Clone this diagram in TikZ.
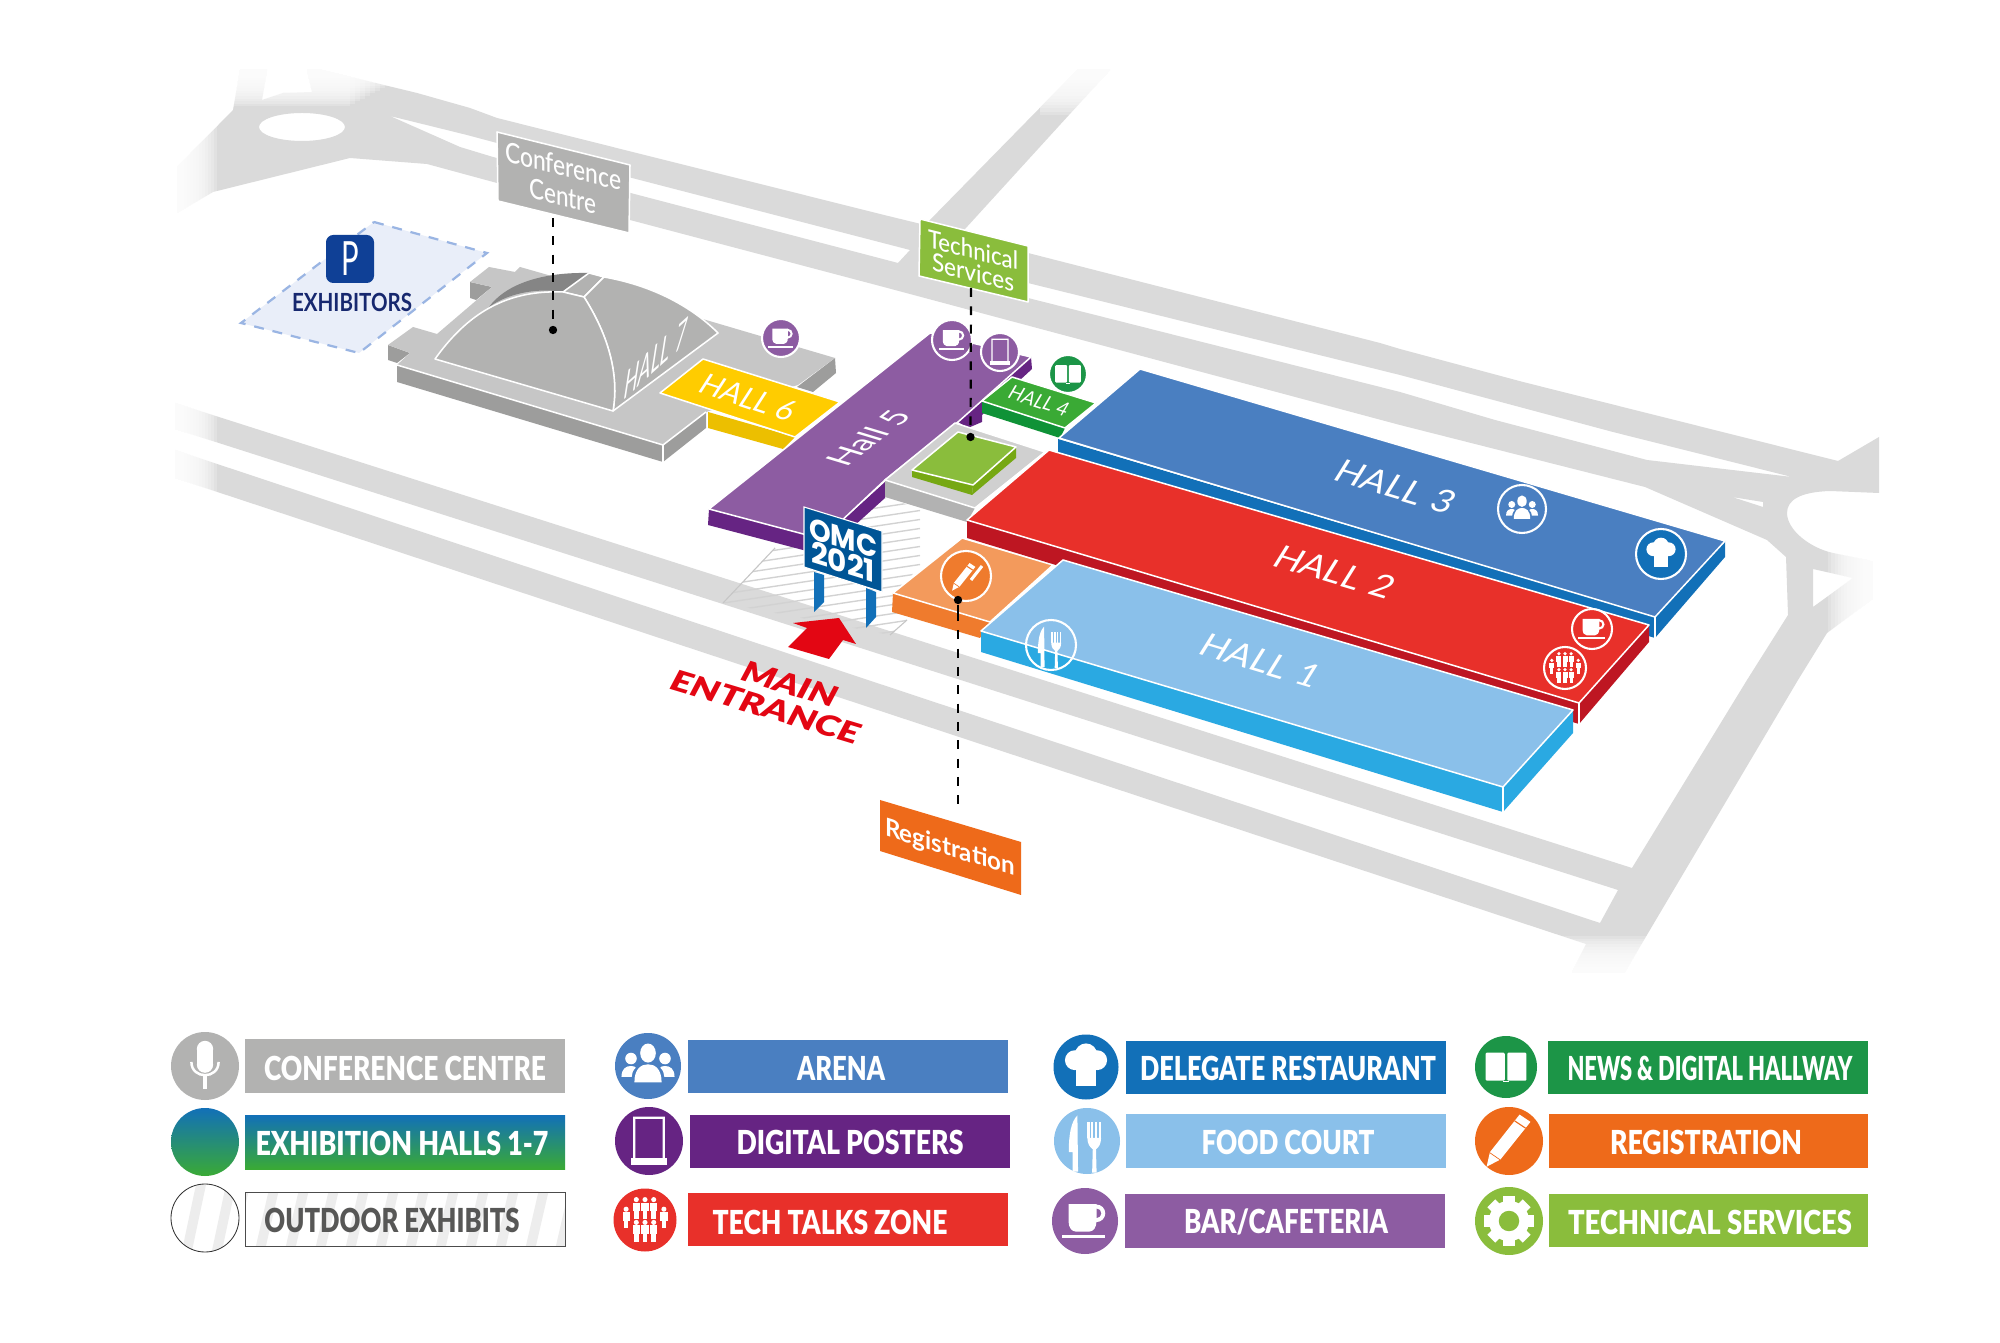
\documentclass[tikz,border=0pt]{standalone}
\usepackage{fontspec}
\usepackage{graphicx}
\setmainfont{Lato}
\newfontfamily\medf{Lato Medium}
\newfontfamily\blkf{Lato Black}
\newfontfamily\popp{Poppins}
\definecolor{road}{HTML}{DADADA}
\definecolor{cgray}{HTML}{B2B2B1}
\definecolor{cplat}{HTML}{C6C6C6}
\definecolor{cdark}{HTML}{9D9D9C}
\definecolor{cback}{HTML}{858585}
\definecolor{carena}{HTML}{4A7FC1}
\definecolor{cdeleg}{HTML}{1270B8}
\definecolor{cred}{HTML}{E8302A}
\definecolor{cdred}{HTML}{BE1622}
\definecolor{cfood}{HTML}{8AC0EA}
\definecolor{cfood2}{HTML}{2AA9E2}
\definecolor{cbar}{HTML}{8D5CA2}
\definecolor{cposter}{HTML}{662483}
\definecolor{cnews}{HTML}{1C9547}
\definecolor{chall4}{HTML}{3AAA35}
\definecolor{chall4d}{HTML}{0F9237}
\definecolor{creg}{HTML}{EE6A1A}
\definecolor{corl}{HTML}{F39A5C}
\definecolor{cord}{HTML}{EF7B2D}
\definecolor{ctech}{HTML}{8ABD3C}
\definecolor{ctechd}{HTML}{76A813}
\definecolor{cyel}{HTML}{FFCC00}
\definecolor{cyeld}{HTML}{ECBF00}
\definecolor{cplatb}{HTML}{D0D0D0}
\definecolor{cplatd}{HTML}{B2B2B2}
\definecolor{csign}{HTML}{005596}
\definecolor{carrow}{HTML}{E30613}
\definecolor{cpark}{HTML}{E9EEF9}
\definecolor{cparkd}{HTML}{9AB5E3}
\definecolor{cpblue}{HTML}{0F4096}
\definecolor{cnavy}{HTML}{17286F}
\definecolor{coutd}{HTML}{575756}
\definecolor{cstripe}{HTML}{EDEDED}
\definecolor{chatch}{HTML}{D2D2D2}
\definecolor{cgreen}{HTML}{3AAA35}
\newcommand\fw[2]{\resizebox{\dimexpr #1pt*36/100\relax}{\height}{#2}}
% icons: unit circle radius 10, +y downward
\newcommand\IcoCup[3]{\begin{scope}[shift={(#1,#2)},scale=#3]
\fill[white] (-5,-4.8)--(3,-4.8)--(3,0) .. controls (3,2) and (2,3) .. (1,3)--(-3,3) .. controls (-4,3) and (-5,2) .. (-5,0)--cycle;
\fill[white,even odd rule] (3,-2.2) circle[radius=2.5] (3,-2.2) circle[radius=1.4];
\fill[white] (-7,4) rectangle (5.5,4.9);
\end{scope}}
\newcommand\IcoPeople[3]{\begin{scope}[shift={(#1,#2)},scale=#3]
\fill[white] (0,-3.8) ellipse[x radius=2.3,y radius=2.8];
\fill[white] (-5,-2.2) circle[radius=1.7] (5,-2.2) circle[radius=1.7];
\fill[white] (-4,4.8) .. controls (-4,0.8) and (-2,-.5) .. (0,-.5) .. controls (2,-.5) and (4,.8) .. (4,4.8)--cycle;
\fill[white] (-7.8,3.2) .. controls (-7.8,.8) and (-6.5,0) .. (-5,0) .. controls (-4.2,0) and (-3.8,.2) .. (-3.6,.5) .. controls (-4.4,1.2) and (-4.8,2.2) .. (-4.8,3.2)--cycle;
\fill[white] (7.8,3.2) .. controls (7.8,.8) and (6.5,0) .. (5,0) .. controls (4.2,0) and (3.8,.2) .. (3.6,.5) .. controls (4.4,1.2) and (4.8,2.2) .. (4.8,3.2)--cycle;
\end{scope}}
\newcommand\IcoChef[3]{\begin{scope}[shift={(#1,#2)},scale=#3]
\fill[white] (-3.6,-2.2) circle[radius=3.2] (3.6,-2.2) circle[radius=3.2] (0,-4) circle[radius=3.6];
\fill[white] (-3.2,-2) rectangle (3.2,6);
\end{scope}}
\newcommand\IcoFork[3]{\begin{scope}[shift={(#1,#2)},scale=#3]
\fill[white] (-3,-8)--(-2.8,9.6)--(-4.5,9.6)--(-4.5,3.5)--(-5.7,3.5) .. controls (-5.7,-2) and (-5,-6) .. (-3,-8)--cycle;
\foreach \t in {.1,1.3,2.5,3.7}{\fill[white] (\t,-5.8) rectangle ++(.7,5);}
\fill[white] (.1,-1) .. controls (.1,1) and (1,2) .. (1.8,2.6)--(1.6,9.9)--(3,9.9)--(2.8,2.6) .. controls (3.6,2) and (4.4,1) .. (4.4,-1)--cycle;
\end{scope}}
\newcommand\IcoPen[4]{\begin{scope}[shift={(#1,#2)},scale=#3]
\fill[white] (-6.8,7.8)--(-5.8,3.4)--(3.2,-8)--(6.5,-5.8)--(-2.6,5.6)--cycle;
\draw[#4,line width=.4pt] (1.7,-6.1)--(5,-3.9);
\draw[#4,line width=.25pt] (-5.9,3.5)--(-2.7,5.7);
\end{scope}}
\newcommand\IcoBook[3]{\begin{scope}[shift={(#1,#2)},scale=#3]
\fill[white,rounded corners=.4pt] (-6.6,-4.6) rectangle (-.4,4.4);
\fill[white,rounded corners=.4pt] (.4,-4.6) rectangle (6.6,4.4);
\fill[white] (-.9,4.4) rectangle (.9,4.9);
\end{scope}}
\newcommand\IcoPoster[3]{\begin{scope}[shift={(#1,#2)},scale=#3]
\fill[white,even odd rule] (-4.8,-7.4) rectangle (4.8,5.2) (-4.1,-6.7) rectangle (4.1,5.2);
\fill[white] (-5.6,5.2) rectangle (5.6,7.2);
\end{scope}}
\newcommand\IcoTalk[3]{\begin{scope}[shift={(#1,#2)},scale=#3]
\foreach \hx/\hy in {-2.9/-4.6,0/-4.6,2.9/-4.6,-6.3/-1.4,6.3/-1.4,-2.9/3,0/3,2.9/3}{
\fill[white] (\hx,\hy-2.2) circle[radius=.85];
\fill[white] (\hx-1.2,\hy-1.2) rectangle (\hx+1.2,\hy+1.6);
\fill[white] (\hx-.75,\hy+1.6) rectangle (\hx+.75,\hy+4.2);}
\end{scope}}
\newcommand\IcoMic[3]{\begin{scope}[shift={(#1,#2)},scale=#3]
\fill[white] (0,-5) circle[radius=2.4] (0,-.4) circle[radius=2.4];
\fill[white] (-2.4,-5) rectangle (2.4,-.4);
\draw[white,line width=.9pt] (-4,-1.2) .. controls (-4,4) and (4,4) .. (4,-1.2);
\fill[white] (-.55,2.5) rectangle (.55,6.8);
\end{scope}}
\newcommand\IcoGear[4]{\begin{scope}[shift={(#1,#2)},scale=#3]
\foreach \a in {0,45,...,315}{\fill[white,rotate=\a] (-1.7,-7.6) rectangle (1.7,0);}
\fill[white] (0,0) circle[radius=6.1];
\fill[#4] (0,0) circle[radius=3.1];
\end{scope}}
\tikzset{
 face/.style={draw=white,line width=.55pt,line join=round},
 mapico/.style={draw=white,line width=.75pt},
 leader/.style={black,line width=.8pt,dash pattern=on 3.2pt off 3.4pt},
 dotnode/.style={circle,fill=black,inner sep=0pt,minimum size=3pt},
 legtxt/.style={text=white,font=\fontsize{11.9}{13}\selectfont\blkf,inner sep=0pt},
 hallbase/.style={text=white,inner sep=0pt},
 hallT/.style={hallbase,font=\fontsize{12.2}{14}\selectfont,cm={1,-.3,.53,.85,(0,0)}},
 signT/.style={text=white,inner sep=0pt,align=center},
 fadestep/.style={white,opacity=.2},
}
\begin{document}
\begin{tikzpicture}[x=.36pt,y=-.36pt]
\useasboundingbox (0,0) rectangle (2000,1343);
\fill[white] (0,0) rectangle (2000,1343);
% ---------- roads
\fill[road,even odd rule]
 (240,70)--(267,70)--(262,100)--(283,93)--(312,92)--(307,70)--(322,70)--(417,93)--(470,108)--(497,118)--(880,214)--(925,225)--(1077,70)--(1110,70)--(955,240)--(1028,253)--(1380,343)--(1400,349)--(1523,382)--(1838,461)--(1879,437)--(1879,493)--(1830,491) .. controls (1800,492) and (1787,500) .. (1787,513) .. controls (1787,530) and (1810,548) .. (1833,553)--(1867,560)--(1885,566)--(1885,590)--(1867,603)--(1827,633)--(1798,680)--(1625,972)--(1572,972)--(1586,944)--(175,478)--(175,450)--(1600,923)--(1618,890)--(175,429)--(175,403)--(1632,868)--(1747,680)--(1788,615)--(1786,557)--(1767,540)--(1645,487)--(1400,425)--(880,286)--(630,220)--(497,183)--(427,164)--(350,158)--(213,192)--(177,213)--(177,167)--(233,110)--cycle
 (390,116)--(467,135)--(497,143)--(910,250)--(898,263)--(493,157)--(460,147)--cycle
 (955,265)--(1028,283)--(1400,375)--(1613,432)--(1792,477)--(1647,460)--(1495,420)--(1400,392)--(1028,298)--(945,278)--cycle
 (1813,569)--(1853,578)--(1813,607)--cycle
 (1732,497)--(1763,502)--(1763,507)--cycle
 (302,127) ellipse[x radius=43,y radius=14];
% soft ends of the roads
\foreach \i in {1,...,14}{
 \fill[fadestep] (170,60) rectangle ({175+\i*3},235);
 \fill[fadestep] (170,390) rectangle ({175+\i*3},495);
 \fill[fadestep] (170,60) rectangle ({420-\i*5},{70+\i*2.6});
 \fill[fadestep] (1040,60) rectangle (1130,{70+\i*3.2});
 \fill[fadestep] (1550,{975-\i*2.8}) rectangle (1650,980);
 \fill[fadestep] ({1873-\i*3.2},548) rectangle (1892,640);
}
\fill[white] (1873,548) rectangle (1892,640);
% ---------- outdoor hatch
\begin{scope}
\clip (723,603)--(775,548)--(885,498)--(967,522)--(893,593)--(907,620)--(890,635)--cycle;
\foreach \yy in {504,513,...,660}{\draw[chatch,line width=.5pt] (700,\yy+3.5)--(920,\yy-29.5);}
\end{scope}
\draw[cplat,line width=.4pt] (723,603)--(775,548);
\draw[cplat,line width=.4pt] (907,620)--(890,635);
% ---------- parking
\fill[cpark] (374,222)--(487,253)--(359,353)--(241,323)--cycle;
\draw[cparkd,line width=.8pt,dash pattern=on 3.6pt off 3.2pt] (374,222)--(487,253)--(359,353)--(241,323)--cycle;
\fill[cpblue,rounded corners=2.6pt] (326,235) rectangle (374,283);
\node[text=white,inner sep=0pt,font=\fontsize{17}{18}\selectfont,xscale=.62] (pLetter) at (350,259) {P};
\node[text=cnavy,inner sep=0pt,font=\fontsize{9}{11}\selectfont\bfseries] (exhib) at (352,302) {\fw{120}{EXHIBITORS}};
% ---------- hall 7 platform
\fill[cdark] (397,365)--(663,445)--(663,462)--(397,382)--cycle;
\fill[cdark] (663,445)--(706,412)--(706,428)--(663,462)--cycle;
\fill[cdark] (835,358)--(836,373)--(813,392)--(797,387)--cycle;
\fill[cdark] (388,345)--(410,353)--(397,363)--(388,360)--cycle;
\fill[cdark] (470,282)--(492,287)--(476,300)--(470,298)--cycle;
\fill[cplat] (397,365)--(410,353)--(388,345)--(413,327)--(437,334)--(492,287)--(470,282)--(489,267)--(515,272)--(520,267)--(706,320)--(835,358)--(798,385)--(706,412)--(663,445)--cycle;
\draw[white,line width=.55pt] (397,365)--(663,445)--(706,412);
\draw[white,line width=.55pt] (663,445)--(663,462);
% dome
\fill[cback] (489,307) .. controls (505,285) and (540,272) .. (589,273)--(563,292) .. controls (540,288) and (510,292) .. (489,307)--cycle;
\fill[cgray,face] (563,292)--(589,273)--(604,277)--(584,297)--cycle;
\fill[cgray,face] (584,297)--(604,277) .. controls (650,285) and (690,305) .. (718,333)--(613,411) .. controls (620,370) and (605,330) .. (584,297)--cycle;
\fill[cgray,face] (435,359) .. controls (470,310) and (510,290) .. (563,292)--(584,297) .. controls (605,330) and (620,370) .. (613,411)--cycle;
\node[hallbase,font=\fontsize{14}{16}\selectfont\itshape,cm={.74,.67,.1,1,(0,0)}] (hall7) at (656,358) {\fw{84}{HALL 7}};
% hall 6
\fill[cyeld] (708,412)--(795,437)--(783,449)--(708,428)--cycle;
\fill[cyel,face] (660,393)--(703,359)--(840,402)--(795,437)--cycle;
\node[hallbase,font=\fontsize{10.8}{13}\selectfont,cm={1,-.33,.55,.85,(0,0)}] (hall6) at (748,398) {\fw{92}{HALL 6}};
% hall 5
\fill[cposter] (709,509)--(822,539)--(822,555)--(708,525)--cycle;
\fill[cposter] (822,539)--(885,482)--(885,498)--(822,555)--cycle;
\fill[cposter] (1031,357)--(1032,369)--(982,415)--(982,422)--(968,428)--(958,422)--cycle;
\fill[cbar,face] (709,509)--(930,333)--(1031,357)--(958,422)--(885,480)--(822,539)--cycle;
\node[hallbase,font=\fontsize{12}{14}\selectfont,cm={.79,.62,-.96,.29,(0,0)}] (hall5) at (868,438) {Hall 5};
% grey service platform + technical box
\fill[cplatd] (885,480)--(975,508)--(967,522)--(885,497)--cycle;
\fill[cplatb,face] (885,480)--(955,423)--(1045,452)--(975,508)--cycle;
\fill[ctechd] (912,470)--(973,485)--(972,495)--(912,477)--cycle;
\fill[ctechd] (973,485)--(1016,447)--(1016,458)--(972,495)--cycle;
\fill[ctech,face] (912,470)--(958,432)--(1016,447)--(973,485)--cycle;
% hall 4
\fill[chall4d] (982,401)--(1065,428)--(1060,438)--(982,413)--cycle;
\fill[chall4,face] (982,401)--(1012,377)--(1096,403)--(1065,428)--cycle;
\node[hallbase,font=\fontsize{7.4}{9}\selectfont,cm={1,-.32,.5,.85,(0,0)}] (hall4) at (1039,401) {\fw{58}{HALL 4}};
% registration block
\fill[cord] (893,593)--(990,622)--(980,638)--(892,612)--cycle;
\fill[corl,face] (893,593)--(962,538)--(1053,565)--(990,622)--cycle;
% hall 3
\fill[cdeleg] (1058,439)--(1655,617)--(1655,638)--(1058,455)--cycle;
\fill[cdeleg] (1655,617)--(1725,541)--(1725,557)--(1655,638)--cycle;
\fill[carena,face] (1059,438)--(1140,369)--(1725,541)--(1655,617)--cycle;
\draw[white,line width=.55pt] (1655,617)--(1655,638);
% hall 2
\fill[cdred] (967,520)--(1579,703)--(1579,724)--(967,538)--cycle;
\fill[cdred] (1579,703)--(1649,625)--(1649,642)--(1579,724)--cycle;
\fill[cred,face] (967,520)--(1049,450)--(1649,625)--(1579,703)--cycle;
\draw[white,line width=.55pt] (1579,703)--(1579,724);
% hall 1
\fill[cfood2] (981,631)--(1503,787)--(1503,812)--(981,652)--cycle;
\fill[cfood2] (1503,787)--(1573,710)--(1573,733)--(1503,812)--cycle;
\fill[cfood,face] (981,631)--(1063,560)--(1573,710)--(1503,787)--cycle;
\draw[white,line width=.55pt] (1503,787)--(1503,812);
% hall names
\node[hallT] (hall3) at (1396,487) {\fw{116}{HALL\,\,3}};
\node[hallT] (hall2) at (1335,572) {\fw{116}{HALL\,\,2}};
\node[hallT] (hall1) at (1261,661) {\fw{116}{HALL\,\,1}};
% map icons
\fill[cbar,mapico] (781,338) circle[radius=19]; \IcoCup{782}{338}{1.95}
\fill[cbar,mapico] (952,340) circle[radius=20]; \IcoCup{953}{340}{2.05}
\fill[cbar,mapico] (1000,352) circle[radius=19]; \IcoPoster{1000}{352}{1.8}
\fill[cnews,mapico] (1068,374) circle[radius=19]; \IcoBook{1068}{374}{1.95}
\fill[cdeleg,mapico] (1661,554) circle[radius=25]; \IcoChef{1661}{554}{2.15}
\draw[white,line width=.75pt] (1522,509) circle[radius=24]; \IcoPeople{1522}{509}{2.05}
\draw[white,line width=.75pt] (1592,629) circle[radius=20]; \IcoCup{1593}{629}{2.1}
\draw[white,line width=.75pt] (1565,668) circle[radius=21]; \IcoTalk{1565}{668}{2.1}
\draw[white,line width=.75pt] (1051,645) circle[radius=25]; \IcoFork{1051}{645}{2.3}
\fill[cord,mapico] (966,576) circle[radius=25]; \IcoPen{964}{577}{1.75}{cord}
\coordinate (clipA) at (971,580);
\coordinate (clipB) at (982,566);
\draw[white,line width=1.1pt] (clipA)--(clipB);
% ---------- labels and leaders
\fill[cgray,face] (497,132)--(630,165)--(629,233)--(498,201)--cycle;
\node[signT,font=\fontsize{10}{10.6}\selectfont\medf,cm={1,-.25,0,1,(0,0)}] (confLabel) at (563,181) {\fw{116}{Conference}\\\fw{67}{Centre}};
\fill[ctech,face] (920,219)--(1028,246)--(1028,302)--(919,276)--cycle;
\node[signT,font=\fontsize{9}{8}\selectfont\medf,cm={1,-.25,0,1,(0,0)}] (techLabel) at (973,261) {\fw{90}{Technical}\\\fw{82}{Services}};
\fill[creg] (880,800)--(1021,842)--(1021,895)--(880,851)--cycle;
\node[signT,font=\fontsize{9}{11}\selectfont\bfseries,cm={1,-.31,0,1,(0,0)}] (regLabel) at (950,849) {\fw{130}{Registration}};
\coordinate (confBottom) at (553,218);
\coordinate (techBottom) at (971,288);
\coordinate (regTop) at (958,812);
\node[dotnode] (confDot) at (553,330) {};
\node[dotnode] (techDot) at (970.5,437) {};
\node[dotnode] (regDot) at (958,600) {};
\coordinate (regSolidEnd) at (958,612);
\draw[leader] (confBottom)--(confDot);
\draw[leader] (techBottom)--(techDot);
\draw[black,line width=.8pt] (regDot)--(regSolidEnd);
\draw[leader] (regSolidEnd)--(regTop);
% ---------- sign
\fill[cdeleg] (814,572)--(824,575)--(824,602)--(814,612)--cycle;
\fill[cdeleg] (866,588)--(876,592)--(876,617)--(866,628)--cycle;
\fill[csign,draw=white,line width=.4pt] (804,507)--(882,531)--(882,592)--(804,567)--cycle;
\node[signT,font=\fontsize{10.8}{8.7}\selectfont\popp\bfseries,cm={1,-.31,0,1,(0,0)}] (omc) at (843,550) {\fw{68}{OMC}\\\fw{64}{2021}};
% ---------- arrow and entrance text
\fill[carrow] (793,623)--(839,618)--(856,644)--(843,640)--(829,659)--(788,647)--(807,628)--cycle;
\node[text=carrow,inner sep=0pt,font=\fontsize{11}{13}\selectfont\blkf,cm={1,-.3,.45,.85,(0,0)}] (mainT) at (790,684) {\fw{94}{MAIN}};
\node[text=carrow,inner sep=0pt,font=\fontsize{11}{13}\selectfont\blkf,cm={1,-.3,.45,.85,(0,0)}] (entT) at (766,707) {\fw{186}{ENTRANCE}};
% ---------- legend, column 1
\fill[cgray] (205,1066) circle[radius=34]; \IcoMic{205}{1066}{3.4}
\fill[cgray] (245,1039) rectangle (565,1093);
\node[legtxt] (lg1) at (405,1068) {\fw{282}{CONFERENCE CENTRE}};
\shade[top color=cdeleg,bottom color=cgreen] (205,1142) circle[radius=34];
\shade[top color=cdeleg,bottom color=cgreen] (245,1115) rectangle (565,1169);
\node[legtxt] (lg2) at (402,1143) {\fw{293}{EXHIBITION HALLS 1-7}};
\begin{scope}
\clip (205,1218) circle[radius=34];
\foreach \sx in {150,180,...,270}{\fill[cstripe] (\sx,1260)--(\sx+10,1260)--(\sx+27,1180)--(\sx+17,1180)--cycle;}
\end{scope}
\draw[black!80,line width=.3pt] (205,1218) circle[radius=34];
\begin{scope}
\clip (245,1192) rectangle (565,1246);
\foreach \sx in {225,255,...,585}{\fill[cstripe] (\sx,1250)--(\sx+10,1250)--(\sx+25,1185)--(\sx+15,1185)--cycle;}
\end{scope}
\draw[black!70,line width=.3pt] (245,1192) rectangle (565,1246);
\node[legtxt,text=coutd] (lg3) at (392,1220) {\fw{255}{OUTDOOR EXHIBITS}};
% column 2
\fill[carena] (648,1066) circle[radius=33]; \IcoPeople{648}{1066}{3.4}
\fill[carena] (688,1040) rectangle (1008,1093);
\node[legtxt] (lg4) at (841,1068) {\fw{88}{ARENA}};
\fill[cposter] (649,1141) circle[radius=34]; \IcoPoster{649}{1141}{3.3}
\fill[cposter] (690,1115) rectangle (1010,1168);
\node[legtxt] (lg5) at (850,1142) {\fw{227}{DIGITAL POSTERS}};
\fill[cred] (645,1220) circle[radius=31.5]; \IcoTalk{645}{1220}{3}
\fill[cred] (688,1193) rectangle (1008,1246);
\node[legtxt] (lg6) at (830,1222) {\fw{235}{TECH TALKS ZONE}};
% column 3
\fill[cdeleg] (1086,1067) circle[radius=32.5]; \IcoChef{1086}{1067}{3.1}
\fill[cdeleg] (1126,1041) rectangle (1446,1094);
\node[legtxt] (lg7) at (1288,1068) {\fw{296}{DELEGATE RESTAURANT}};
\fill[cfood] (1087,1141) circle[radius=33]; \IcoFork{1087}{1141}{3.2}
\fill[cfood] (1126,1114) rectangle (1446,1168);
\node[legtxt] (lg8) at (1288,1142) {\fw{173}{FOOD COURT}};
\fill[cbar] (1085,1221) circle[radius=33]; \IcoCup{1086}{1221}{3.5}
\fill[cbar] (1125,1194) rectangle (1445,1248);
\node[legtxt] (lg9) at (1286,1222) {\fw{204}{BAR/CAFETERIA}};
% column 4
\fill[cnews] (1506,1067) circle[radius=31]; \IcoBook{1506}{1067}{3.1}
\fill[cnews] (1548,1041) rectangle (1868,1094);
\node[legtxt] (lg10) at (1710,1068) {\fw{285}{NEWS \& DIGITAL HALLWAY}};
\fill[creg] (1509,1141) circle[radius=34]; \IcoPen{1509}{1141}{3.3}{creg}
\fill[creg] (1549,1114) rectangle (1868,1168);
\node[legtxt] (lg11) at (1706,1142) {\fw{192}{REGISTRATION}};
\fill[ctech] (1509,1221) circle[radius=34]; \IcoGear{1509}{1221}{3.3}{ctech}
\fill[ctech] (1549,1194) rectangle (1868,1247);
\node[legtxt] (lg12) at (1710,1222) {\fw{284}{TECHNICAL SERVICES}};
\end{tikzpicture}
\end{document}
